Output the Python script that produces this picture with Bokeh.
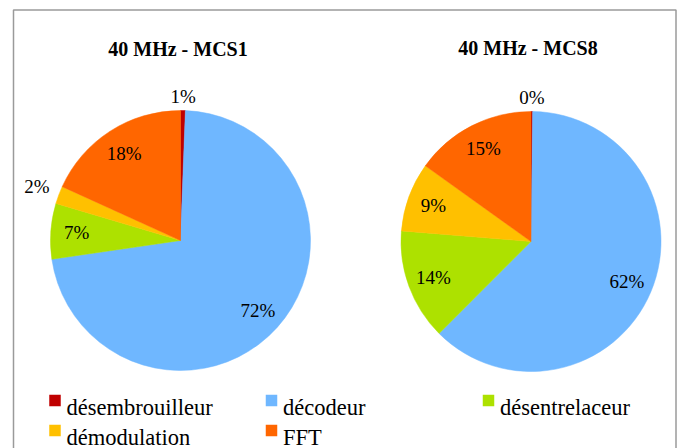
import math
from bokeh.plotting import figure
from bokeh.models import Range1d, ColumnDataSource
from bokeh.core.properties import value
from bokeh.embed import file_html
from bokeh.resources import INLINE

# ---- data ----
categories = ["désembrouilleur", "décodeur", "désentrelaceur", "démodulation", "FFT"]
colors = ["#C00000", "#6FB7FF", "#ADE100", "#FFC000", "#FF6600"]
titles = ["40 MHz - MCS1", "40 MHz - MCS8"]
values_mcs1 = [0.6, 72.1, 6.9, 2.2, 18.2]
values_mcs8 = [0.2, 62.3, 13.8, 8.6, 15.1]

# ---- layout ----
W, H = 682, 448
FONT = value("Liberation Serif")


def Y(ypix):
    return H - ypix


p = figure(width=W, height=H, x_range=Range1d(0, W), y_range=Range1d(0, H),
           output_backend="svg", toolbar_location=None,
           x_axis_location=None, y_axis_location=None,
           min_border=0, outline_line_color=None)
p.grid.visible = False
p.background_fill_color = "white"
p.border_fill_color = "white"

# outer border (bottom edge lies below the visible area)
p.line(x=[13, 13, 675.5, 675.5], y=[Y(470), Y(9.5), Y(9.5), Y(470)],
       line_color="#9a9a9a", line_width=1.5)

R = 130
pies = [(values_mcs1, 180, 240, titles[0], 177.5, 48.3),
        (values_mcs8, 530.5, 241, titles[1], 527.5, 47.5)]

for vals, cx, cy, title, tx, ty in pies:
    total = sum(vals)
    cum = 0.0
    starts, ends, lx, ly, lt = [], [], [], [], []
    for v in vals:
        t0 = cum / total * 360.0
        cum += v
        t1 = cum / total * 360.0
        starts.append(math.radians(90 - t0))
        ends.append(math.radians(90 - t1))
        tm = math.radians((t0 + t1) / 2)
        if v < 3:
            r = R + 14 + 10 * abs(math.sin(tm))
        else:
            r = 0.8 * R
        lx.append(cx + r * math.sin(tm))
        ly.append(Y(cy) + r * math.cos(tm))
        lt.append(f"{round(v)}%")
    src = ColumnDataSource(dict(start=starts, end=ends, color=colors))
    p.wedge(x=cx, y=Y(cy), radius=R, start_angle="start", end_angle="end",
            direction="clock", fill_color="color", line_color="color",
            line_width=0.5, source=src)
    p.text(x=lx, y=ly, text=lt, text_align="center", text_baseline="middle",
           text_font=FONT, text_font_size="19px", text_color="black")
    p.text(x=[tx], y=[Y(ty)], text=[title], text_align="center",
           text_baseline="alphabetic", text_font=FONT, text_font_size="20px",
           text_font_style="bold", text_color="black")

# ---- legend ----
col_x = [54.5, 271, 488]
row_y = [400, 430]
sq_x, sq_y, tx_x, tx_y = [], [], [], []
for i, cat in enumerate(categories):
    c, rw = i % 3, i // 3
    sq_x.append(col_x[c])
    sq_y.append(Y(row_y[rw]))
    tx_x.append(col_x[c] + 11.5)
    tx_y.append(Y(row_y[rw] + 6.5))
p.rect(x=sq_x, y=sq_y, width=11.5, height=11.5, fill_color=colors, line_color=None)
p.text(x=tx_x, y=tx_y, text=categories, text_align="left", text_baseline="alphabetic",
       text_font=FONT, text_font_size="22.5px", text_color="black")

open("out.html", "w").write(file_html(p, INLINE))
